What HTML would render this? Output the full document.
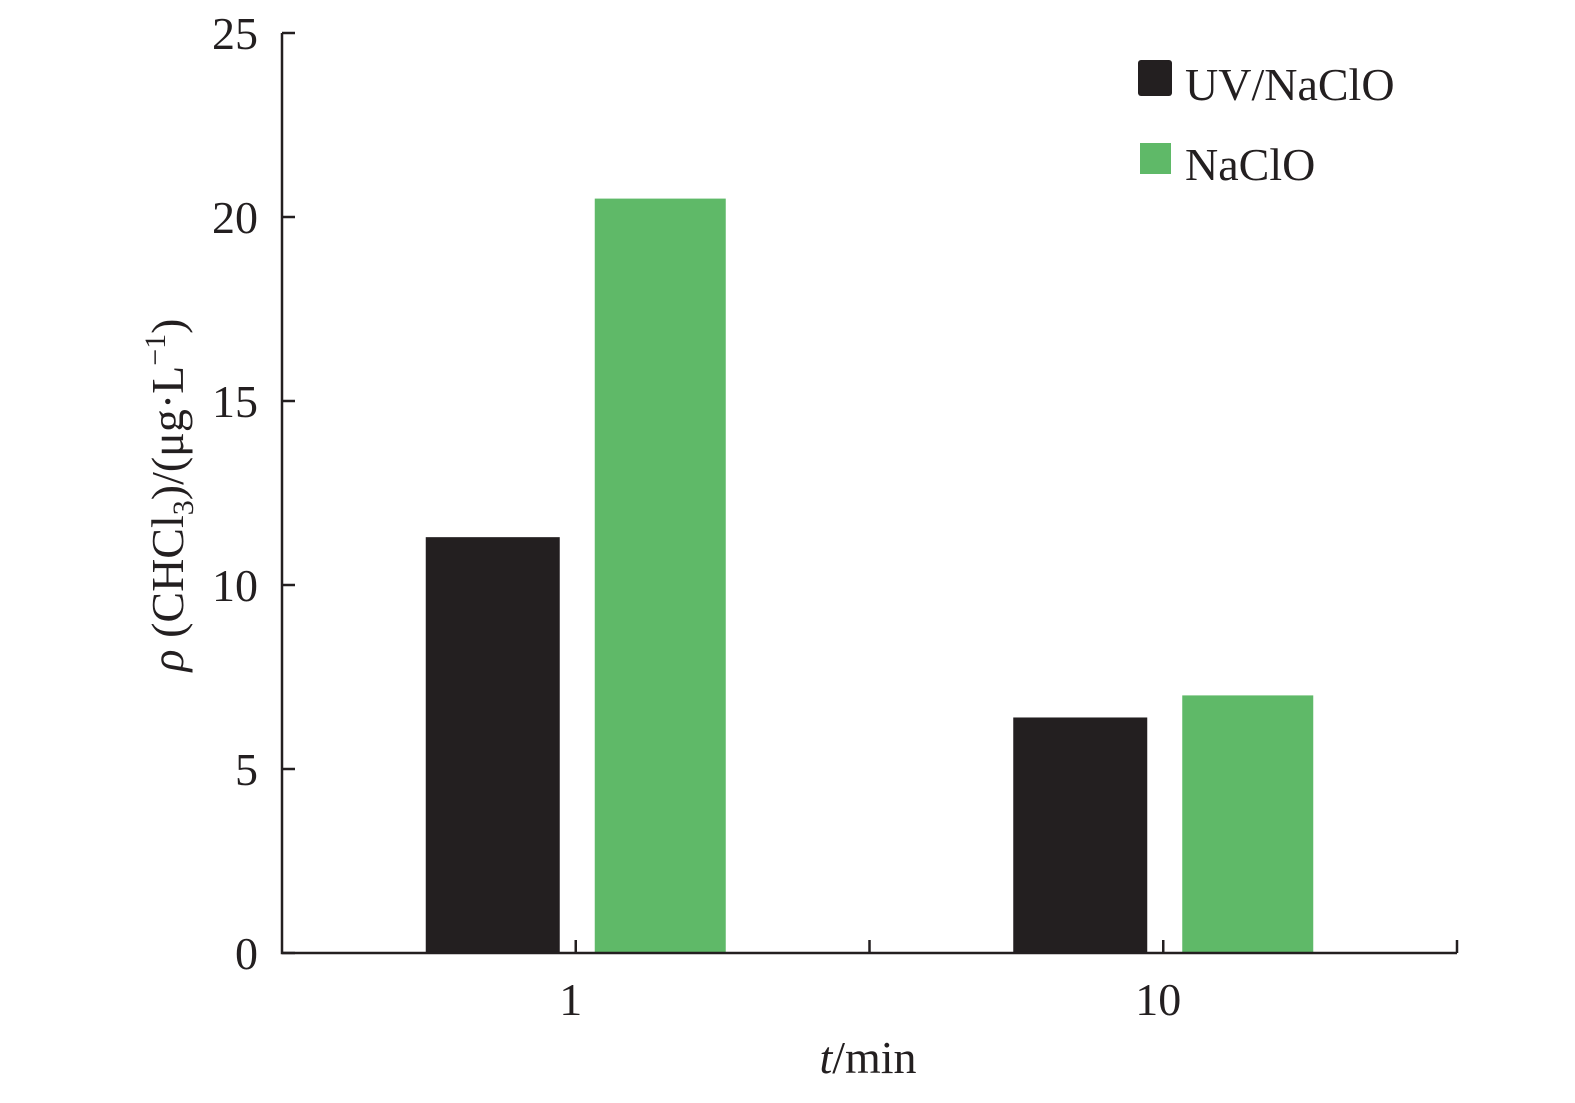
<!DOCTYPE html>
<html><head><meta charset="utf-8"><style>
body{margin:0;background:#fff}
svg text{font-family:"Liberation Serif",serif;fill:#231f20}
</style></head><body>
<svg width="1575" height="1098" viewBox="0 0 1575 1098" xmlns="http://www.w3.org/2000/svg">
<g id="plot"></g>
<g>
<rect x="1138" y="60" width="34" height="36" rx="3" fill="#231f20"/>
<text x="1185" y="100" font-size="46">UV/NaClO</text>
<rect x="1140" y="143" width="31" height="31" fill="#5fb968"/>
<text x="1185" y="180" font-size="46">NaClO</text>
</g>
<text x="868" y="1073" font-size="46" text-anchor="middle"><tspan font-style="italic">t</tspan>/min</text>
<text transform="translate(183,495) rotate(-90)" font-size="46" text-anchor="middle"><tspan font-style="italic">ρ</tspan> (CHCl<tspan font-size="30" dy="10">3</tspan><tspan dy="-10">)/(μg·L</tspan><tspan font-size="30" dy="-18">−1</tspan><tspan dy="18">)</tspan></text>
</svg>
<script>
const categories=["1","10"];
const seriesNames=["UV/NaClO","NaClO"];
const uvValues=[11.3,6.4];
const nacloValues=[20.5,7.0];
const yTicks=[0,5,10,15,20,25];
const NS="http://www.w3.org/2000/svg";
const g=document.getElementById("plot");
const x0=282,x1=1457,y0=953,y1=33,yMax=25;
const band=(x1-x0)/categories.length;
const yS=v=>y0-(v/yMax)*(y0-y1);
const xC=i=>x0+band*(i+0.5);
function mk(t,a){const e=document.createElementNS(NS,t);for(const k in a)e.setAttribute(k,a[k]);g.appendChild(e);return e;}
const colors=["#231f20","#5fb968"];
const offs=[-150,19],widths=[134,131];
[uvValues,nacloValues].forEach((arr,s)=>{arr.forEach((v,i)=>{
const r=mk("rect",{x:xC(i)+offs[s],y:yS(v),width:widths[s],height:y0-yS(v),fill:colors[s]});


});});
yTicks.forEach(t=>{
const l=mk("line",{x1:x0,x2:x0+13,y1:yS(t),y2:yS(t),stroke:"#231f20","stroke-width":2.5});


const tx=mk("text",{x:258,y:yS(t)+16,"font-size":46,"text-anchor":"end"});tx.textContent=t;


});
for(let i=0;i<=categories.length*2;i++){
const xx=x0+band/2*i;if(i===0)continue;
const l=mk("line",{x1:xx,x2:xx,y1:y0,y2:y0-13,stroke:"#231f20","stroke-width":2.5});


}
categories.forEach((c,i)=>{
const tx=mk("text",{x:xC(i)-5,y:1015,"font-size":46,"text-anchor":"middle"});tx.textContent=c;


});
const ax=mk("path",{d:`M${x0} ${y1}V${y0}H${x1}`,fill:"none",stroke:"#231f20","stroke-width":2.5});


</script>
</body></html>
